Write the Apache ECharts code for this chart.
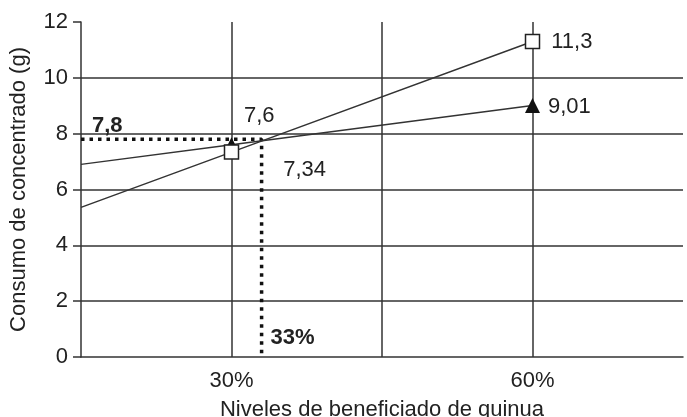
<!DOCTYPE html>
<html>
<head>
<meta charset="utf-8">
<script src="https://cdn.jsdelivr.net/npm/echarts@6/dist/echarts.min.js"></script>
<style>
  html, body { margin: 0; padding: 0; background: #fff; }
  #chart { width: 687px; height: 417px; }
</style>
</head>
<body>
<div id="chart"></div>
<script type="text/javascript">
// niveles de quinua (eje x, %) y valores
var xStart = 15;                 // borde izquierdo del eje
var niveles = [30, 60];
var cuadrados = [7.34, 11.3];    // serie con cuadrado blanco
var triangulos = [7.6, 9.01];    // serie con triangulo negro
var cuadradoInicio = 5.36;       // valor de la recta en el borde izquierdo
var trianguloInicio = 6.9;
var corte = [33, 7.8];           // punto de interseccion (lineas punteadas)
var yTicks = [0, 12, 2];         // min, max, paso
var xTicks = [15, 75, 15];

var ink = '#222';
var font = 'Liberation Sans, Arial, sans-serif';

function coma(v) { return String(v).replace('.', ','); }

var chart = echarts.init(document.getElementById('chart'));

var triData = [{ value: [xStart, trianguloInicio], symbol: 'none' }];
var cuaData = [{ value: [xStart, cuadradoInicio], symbol: 'none' }];
var triOffsets = [[0, -29], [3, 1]];
var cuaOffsets = [[39, 18], [6, 0]];
for (var i = 0; i < niveles.length; i++) {
    triData.push({ value: [niveles[i], triangulos[i]],
        label: { show: true, position: 'right', offset: triOffsets[i] } });
    cuaData.push({ value: [niveles[i], cuadrados[i]],
        label: { show: true, position: 'right', offset: cuaOffsets[i] } });
}

var option = {
    animation: false,
    backgroundColor: '#fff',
    textStyle: { fontFamily: font, color: ink },
    grid: { left: 81, right: 4, top: 22, bottom: 60, outerBoundsMode: 'none', containLabel: false },
    xAxis: {
        type: 'value',
        min: xTicks[0], max: xTicks[1], interval: xTicks[2],
        name: 'Niveles de beneficiado de quinua',
        nameLocation: 'middle',
        nameGap: 42,
        nameTextStyle: { fontSize: 22, color: ink, fontFamily: font },
        axisLine: { show: true, lineStyle: { color: '#333', width: 1.5 } },
        axisTick: { show: false },
        axisLabel: {
            fontSize: 22, color: ink, margin: 13, fontFamily: font,
            formatter: function (v) { return niveles.indexOf(v) >= 0 ? v + '%' : ''; }
        },
        splitLine: { show: true, showMinLine: false, showMaxLine: false,
            lineStyle: { color: '#333', width: 1.5 } }
    },
    yAxis: {
        type: 'value',
        min: yTicks[0], max: yTicks[1], interval: yTicks[2],
        name: 'Consumo de concentrado (g)',
        nameLocation: 'middle',
        nameGap: 51,
        nameTextStyle: { fontSize: 22, color: ink, fontFamily: font },
        axisLine: { show: true, lineStyle: { color: '#333', width: 1.5 } },
        axisTick: { show: true, inside: false, length: 8, lineStyle: { color: '#333', width: 1.5 } },
        axisLabel: { fontSize: 22, color: ink, margin: 13, fontFamily: font },
        splitLine: { show: true, showMinLine: false, showMaxLine: false,
            lineStyle: { color: '#333', width: 1.5 } }
    },
    series: [
        {
            name: 'punteada',
            type: 'line',
            clip: false,
            data: [
                { value: [xStart, corte[1]],
                  label: { show: true, position: 'right', offset: [6, -13],
                           formatter: function () { return coma(corte[1]); } } },
                { value: [corte[0], corte[1]] },
                { value: [corte[0], 0],
                  label: { show: true, position: 'right', offset: [4, -19],
                           formatter: function () { return corte[0] + '%'; } } }
            ],
            symbol: 'circle',
            symbolSize: 0,
            itemStyle: { color: 'rgba(0,0,0,0)' },
            label: { color: ink, fontSize: 22, fontWeight: 'bold', fontFamily: font },
            lineStyle: { color: '#111', width: 3.5, type: [3.5, 5] },
            z: 3
        },
        {
            name: 'triangulo',
            type: 'line',
            data: triData,
            symbol: 'triangle',
            symbolSize: 15,
            itemStyle: { color: '#111' },
            lineStyle: { color: '#333', width: 1.5 },
            label: { color: ink, fontSize: 22, fontFamily: font,
                     formatter: function (p) { return coma(p.value[1]); } },
            z: 4
        },
        {
            name: 'cuadrado',
            type: 'line',
            data: cuaData,
            symbol: 'rect',
            symbolSize: 14,
            itemStyle: { color: '#fff', borderColor: '#222', borderWidth: 1.5 },
            lineStyle: { color: '#333', width: 1.5 },
            label: { color: ink, fontSize: 22, fontFamily: font,
                     formatter: function (p) { return coma(p.value[1]); } },
            z: 5
        }
    ]
};

chart.setOption(option);
</script>
</body>
</html>
